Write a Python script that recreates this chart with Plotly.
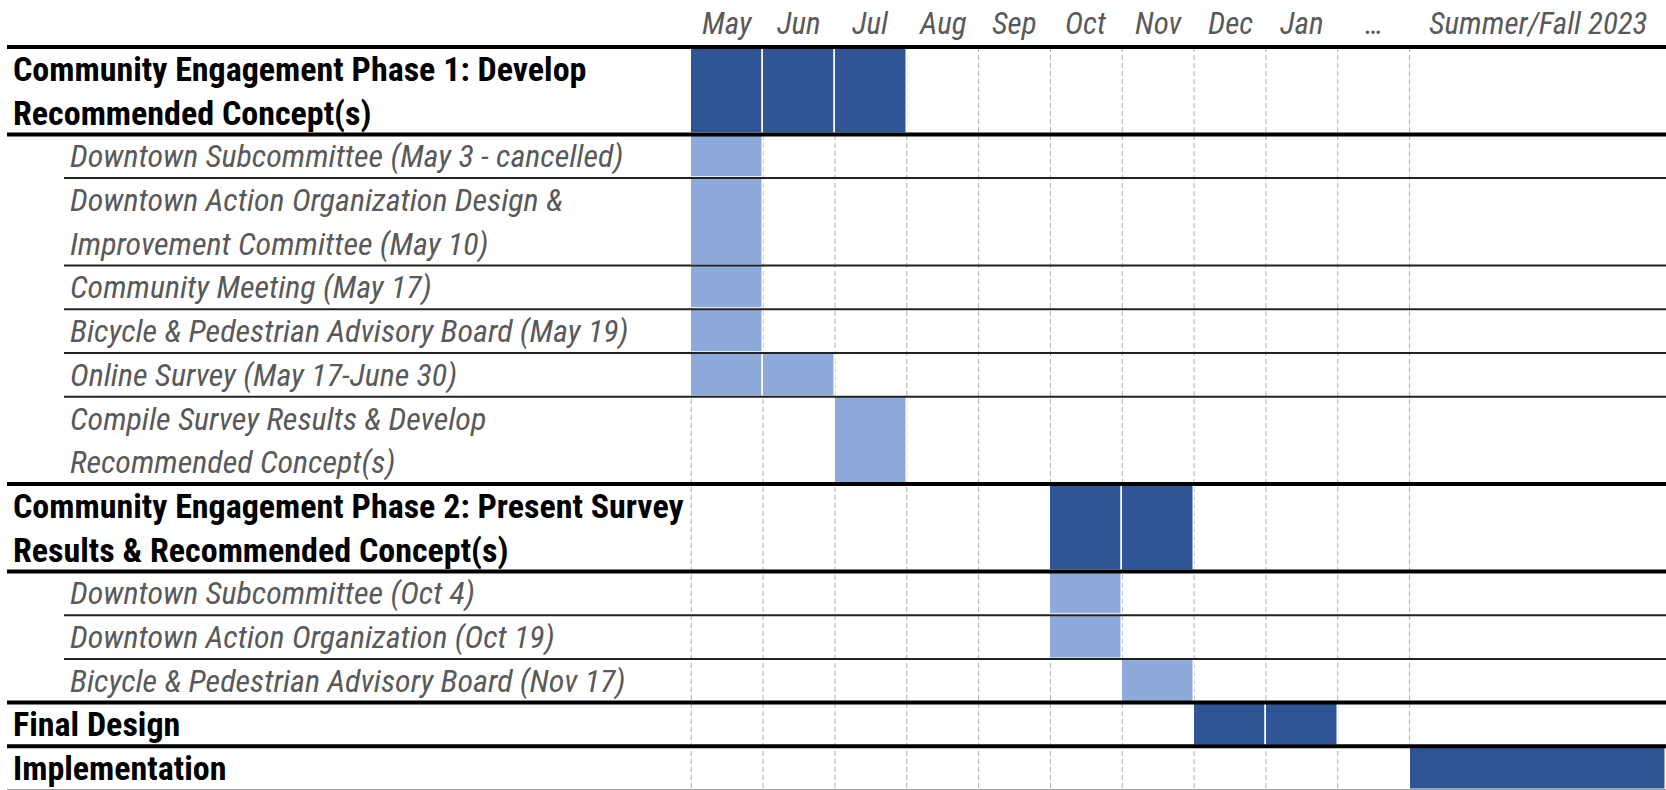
import plotly.graph_objects as go

# ---------------- data ----------------
columns = ["May", "Jun", "Jul", "Aug", "Sep", "Oct", "Nov", "Dec", "Jan", "…", "Summer/Fall 2023"]
column_widths = [1, 1, 1, 1, 1, 1, 1, 1, 1, 1, 3.57]

task_lines = [
    ["Community Engagement Phase 1: Develop", "Recommended Concept(s)"],
    ["Downtown Subcommittee (May 3 - cancelled)"],
    ["Downtown Action Organization Design &", "Improvement Committee (May 10)"],
    ["Community Meeting (May 17)"],
    ["Bicycle & Pedestrian Advisory Board (May 19)"],
    ["Online Survey (May 17-June 30)"],
    ["Compile Survey Results & Develop", "Recommended Concept(s)"],
    ["Community Engagement Phase 2: Present Survey", "Results & Recommended Concept(s)"],
    ["Downtown Subcommittee (Oct 4)"],
    ["Downtown Action Organization (Oct 19)"],
    ["Bicycle & Pedestrian Advisory Board (Nov 17)"],
    ["Final Design"],
    ["Implementation"],
]
task_levels = ["phase", "sub", "sub", "sub", "sub", "sub", "sub",
               "phase", "sub", "sub", "sub", "phase", "phase"]
task_active = [
    ["May", "Jun", "Jul"],
    ["May"],
    ["May"],
    ["May"],
    ["May"],
    ["May", "Jun"],
    ["Jul"],
    ["Oct", "Nov"],
    ["Oct"],
    ["Oct"],
    ["Nov"],
    ["Dec", "Jan"],
    ["Summer/Fall 2023"],
]

# ---------------- layout constants ----------------
W, H = 1666, 790
LABEL_PX = 691          # left edge of the timeline grid
COL_PX = 71.8           # pixel width of one month column
HEADER_UNITS = 47 / 43.7
DARK = "#2F5597"
LIGHT = "#8EAADB"
GRAY = "#595959"
FONT = "Roboto Condensed, Liberation Sans Narrow, Arial Narrow, sans-serif"

col_start = []
acc = 0.0
for w in column_widths:
    col_start.append(acc)
    acc += w
total_cols = acc

row_start = []
acc = 0
for lines in task_lines:
    row_start.append(acc)
    acc += len(lines)
total_rows = acc

x_left = -LABEL_PX / COL_PX
x_right = total_cols

fig = go.Figure()

# bars
for level, color in (("phase", DARK), ("sub", LIGHT)):
    ys, xs, bases, widths = [], [], [], []
    for i, act in enumerate(task_active):
        if task_levels[i] != level:
            continue
        span = len(task_lines[i])
        for c in act:
            k = columns.index(c)
            ys.append(row_start[i] + span / 2)
            xs.append(column_widths[k])
            bases.append(col_start[k])
            widths.append(span)
    fig.add_trace(go.Bar(
        orientation="h", y=ys, x=xs, base=bases, width=widths,
        marker=dict(color=color, line=dict(color="white", width=1.5)),
        hoverinfo="skip", showlegend=False,
    ))

shapes = []
# vertical dashed grid lines
for k in range(len(columns)):
    shapes.append(dict(type="line", xref="x", yref="y",
                       x0=col_start[k], x1=col_start[k], y0=0, y1=total_rows,
                       line=dict(color="#b0b0b0", width=1, dash="5px,3px"),
                       layer="below"))

# horizontal row separators
for i in range(len(task_lines) + 1):
    if i == len(task_lines):
        shapes.append(dict(type="line", xref="paper", yref="y",
                           x0=7 / W, x1=1, y0=total_rows, y1=total_rows,
                           line=dict(color="#9a9a9a", width=2), layer="above"))
        continue
    y = row_start[i]
    prev_phase = i > 0 and task_levels[i - 1] == "phase"
    cur_phase = task_levels[i] == "phase"
    if i == 0 or prev_phase or cur_phase:
        shapes.append(dict(type="line", xref="paper", yref="y",
                           x0=7 / W, x1=1, y0=y, y1=y,
                           line=dict(color="black", width=4), layer="above"))
    else:
        shapes.append(dict(type="line", xref="paper", yref="y",
                           x0=64 / W, x1=1, y0=y, y1=y,
                           line=dict(color="#222222", width=2), layer="above"))

annotations = []
# month headers
for k, c in enumerate(columns):
    annotations.append(dict(
        x=col_start[k] + column_widths[k] / 2, y=-HEADER_UNITS / 2,
        xref="x", yref="y", text=c, showarrow=False,
        font=dict(family=FONT, size=31, color=GRAY, style="italic"),
        xanchor="center", yanchor="middle"))

# task labels
for i, lines in enumerate(task_lines):
    phase = task_levels[i] == "phase"
    for j, line in enumerate(lines):
        annotations.append(dict(
            x=(11 if phase else 68) / W, y=row_start[i] + j + 0.5,
            xref="paper", yref="y", text=line, showarrow=False,
            xanchor="left", yanchor="middle",
            font=dict(family=FONT, size=34 if phase else 32,
                      color="black" if phase else GRAY,
                      weight="bold" if phase else "normal",
                      style="normal" if phase else "italic")))

fig.update_layout(
    width=W, height=H,
    margin=dict(l=0, r=0, t=0, b=0),
    paper_bgcolor="white", plot_bgcolor="white",
    xaxis=dict(range=[x_left, x_right], visible=False, fixedrange=True),
    yaxis=dict(range=[total_rows, -HEADER_UNITS], visible=False, fixedrange=True),
    barmode="overlay", bargap=0,
    shapes=shapes, annotations=annotations,
)

fig.write_html("out.html", config={"displayModeBar": False},
               post_script="document.body.style.margin='0';")
